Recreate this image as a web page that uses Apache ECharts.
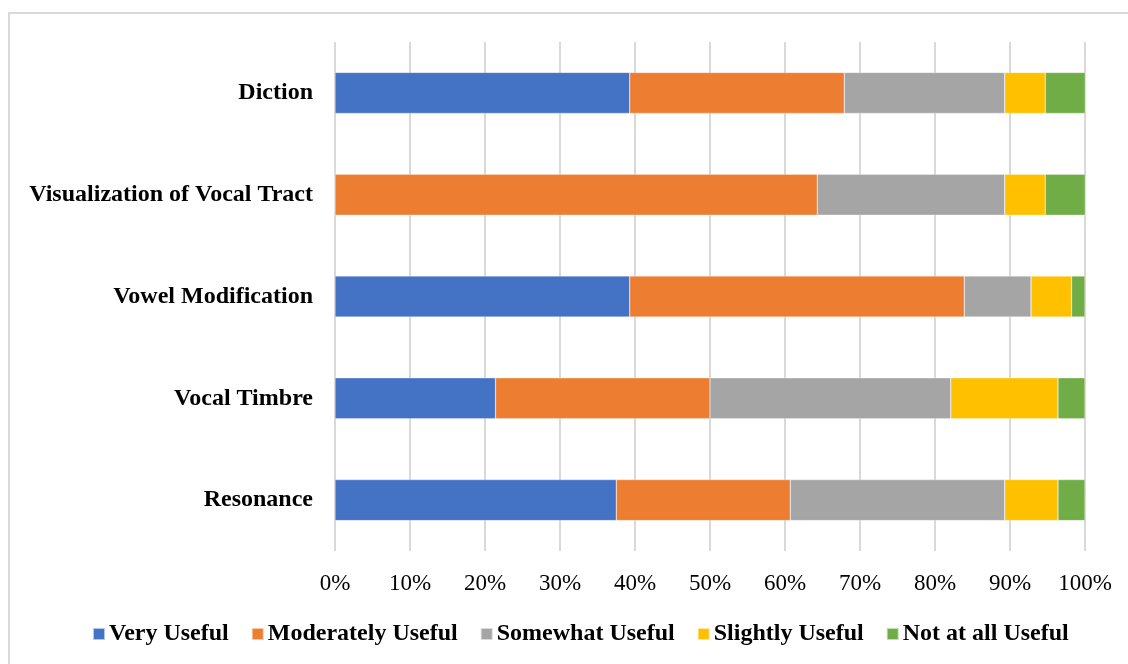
<!DOCTYPE html>
<html>
<head>
<meta charset="utf-8">
<script src="https://cdn.jsdelivr.net/npm/echarts@6/dist/echarts.min.js"></script>
<style>
  html, body { margin: 0; padding: 0; background: #fff; }
  #frame { position: absolute; left: 8px; top: 12px; width: 1130px; height: 660px;
           border: 2px solid #d9d9d9; box-sizing: border-box; }
  #chart { position: absolute; left: 0; top: 0; width: 1128px; height: 664px; }
</style>
</head>
<body>
<div id="frame"></div>
<div id="chart"></div>
<script>
// Survey topics, listed bottom to top as the category axis draws them
const categories = ['Resonance', 'Vocal Timbre', 'Vowel Modification', 'Visualization of Vocal Tract', 'Diction'];

// Share of respondents (%) per rating, same order as categories
const veryUseful       = [37.5, 21.4, 39.3, 0.0,  39.3];
const moderatelyUseful = [23.2, 28.6, 44.6, 64.3, 28.6];
const somewhatUseful   = [28.6, 32.1, 8.9,  25.0, 21.4];
const slightlyUseful   = [7.1,  14.3, 5.4,  5.4,  5.4];
const notAtAllUseful   = [3.6,  3.6,  1.8,  5.4,  5.4];

const seriesNames  = ['Very Useful', 'Moderately Useful', 'Somewhat Useful', 'Slightly Useful', 'Not at all Useful'];
const seriesData   = [veryUseful, moderatelyUseful, somewhatUseful, slightlyUseful, notAtAllUseful];
const seriesColors = ['#4472c4', '#ed7d31', '#a5a5a5', '#ffc000', '#70ad47'];

const serif = '"Liberation Serif", "Times New Roman", serif';

const chart = echarts.init(document.getElementById('chart'), null, { renderer: 'canvas' });
chart.setOption({
  animation: false,
  color: seriesColors,
  grid: { left: 335, right: 43, top: 42, bottom: 113, containLabel: false },
  xAxis: {
    type: 'value', min: 0, max: 100, interval: 10,
    axisLabel: { formatter: '{value}%', color: '#000', fontFamily: serif, fontSize: 23, margin: 21 },
    axisLine: { show: false },
    axisTick: { show: false },
    splitLine: { show: true, lineStyle: { color: '#d9d9d9', width: 2 } }
  },
  yAxis: {
    type: 'category', data: categories,
    axisLabel: { color: '#000', fontFamily: serif, fontSize: 24, fontWeight: 'bold', margin: 22 },
    axisLine: { show: false },
    axisTick: { show: false }
  },
  legend: {
    bottom: 13, left: 87,
    itemWidth: 12, itemHeight: 12, itemGap: 22,
    icon: 'rect',
    textStyle: { color: '#000', fontFamily: serif, fontSize: 24, fontWeight: 'bold', padding: [0, 0, 0, -1] },
    data: seriesNames
  },
  series: seriesNames.map((name, i) => ({
    name, type: 'bar', stack: 'total', barWidth: 41,
    data: seriesData[i],
    itemStyle: { borderColor: 'rgba(255,255,255,0.6)', borderWidth: 0.5 }
  }))
});
</script>
</body>
</html>
